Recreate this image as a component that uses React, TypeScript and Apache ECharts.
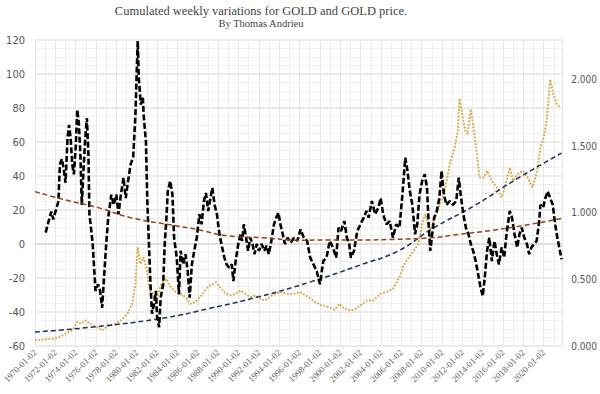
import React, { useEffect, useRef } from "react";
import * as echarts from "echarts";

const blackYears = [
  1971.05, 1971.25, 1971.6, 1971.8, 1972.1, 1972.3, 1972.45, 1972.65, 1972.85, 1973.0,
  1973.2, 1973.35, 1973.5, 1973.66, 1973.82, 1974.0, 1974.15, 1974.3, 1974.46, 1974.6,
  1974.78, 1974.94, 1975.1, 1975.25, 1975.35, 1975.5, 1975.67, 1975.83, 1975.95, 1976.2,
  1976.4, 1976.6, 1976.78, 1977.0, 1977.2, 1977.5, 1977.74, 1978.0, 1978.2, 1978.44,
  1978.7, 1978.92, 1979.1, 1979.4, 1979.65, 1979.87, 1980.0, 1980.1, 1980.2, 1980.4,
  1980.6, 1980.7, 1980.9, 1981.05, 1981.2, 1981.35, 1981.5, 1981.7, 1981.88, 1982.0,
  1982.2, 1982.35, 1982.6, 1982.75, 1982.9, 1983.05, 1983.29, 1983.51, 1983.67, 1983.93,
  1984.15, 1984.31, 1984.56, 1984.79, 1985.01, 1985.2, 1985.42, 1985.65, 1985.9, 1986.16,
  1986.38, 1986.6, 1986.8, 1987.02, 1987.24, 1987.43, 1987.65, 1987.88, 1988.13, 1988.39,
  1988.61, 1988.83, 1989.09, 1989.34, 1989.5, 1989.72, 1989.98, 1990.2, 1990.36, 1990.52,
  1990.75, 1990.94, 1991.16, 1991.38, 1991.57, 1991.8, 1992.02, 1992.27, 1992.53, 1992.75,
  1992.98, 1993.23, 1993.49, 1993.71, 1993.93, 1994.12, 1994.35, 1994.57, 1994.82, 1995.14,
  1995.46, 1995.78, 1996.1, 1996.42, 1996.74, 1997.05, 1997.37, 1997.69, 1998.01, 1998.33,
  1998.65, 1998.97, 1999.28, 1999.6, 1999.83, 2000.08, 2000.4, 2000.65, 2000.88, 2001.04,
  2001.36, 2001.67, 2001.99, 2002.31, 2002.57, 2002.79, 2003.11, 2003.43, 2003.75, 2003.97,
  2004.22, 2004.54, 2004.86, 2005.18, 2005.5, 2005.82, 2006.14, 2006.39, 2006.61, 2006.84,
  2007.09, 2007.35, 2007.57, 2007.79, 2008.05, 2008.3, 2008.53, 2008.69, 2008.85, 2009.0,
  2009.23, 2009.49, 2009.74, 2009.96, 2010.19, 2010.44, 2010.76, 2011.08, 2011.4, 2011.65,
  2011.88, 2012.1, 2012.35, 2012.61, 2012.83, 2013.06, 2013.31, 2013.56, 2013.79, 2014.01,
  2014.2, 2014.43, 2014.65, 2014.9, 2015.16, 2015.38, 2015.6, 2015.86, 2016.11, 2016.34,
  2016.66, 2016.88, 2017.13, 2017.39, 2017.61, 2017.84, 2018.09, 2018.35, 2018.57, 2018.79,
  2019.05, 2019.3, 2019.52, 2019.68, 2019.94, 2020.16, 2020.38, 2020.64, 2020.89, 2021.12,
  2021.34, 2021.59, 2021.75,
];
const blackValues = [
  6.7, 11.5, 19, 14.5, 21, 25, 47, 50, 43, 36,
  62.5, 70, 62.5, 47, 41, 57, 79, 72, 53, 23,
  45, 62.5, 74, 53, 17.5, 9.6, 0, -16, -27.6, -23.7,
  -27.6, -37.5, -20, 0, 15.5, 29, 23, 29, 17.5, 29,
  39, 27, 35, 47, 51, 76, 102, 119.4, 98, 82,
  86, 74, 60.6, 23, 0, -23.7, -41, -35.5, -27.6, -43,
  -49, -31.6, -23.7, 0, 13.5, 31, 37, 29, 3.7, -8,
  -29.6, -4, -12, -6, -16, -31.6, -12, -4, 3.7, 17.5,
  11.6, 25.3, 30, 19.4, 27, 33, 23, 17.5, 5.7, -2,
  -8, -12, -14, -12, -21.8, -10, 0, 5.7, 1.8, 11.6,
  3.7, -4, 3.7, 0, -6, 0, -4, 0, -4, -1,
  -6, 1.8, 11.6, 15.5, 18.4, 11.6, 5.7, 0, 3.7, 0.8,
  3.7, 1.8, 8.6, 3.7, 1.8, -8, -12, -16, -23.7, -10,
  -8, 1.8, -2, -8, 9.6, 7.6, 13.5, 3.7, 0, -8,
  -4, 7.6, 11.6, 15.5, 19.4, 15.5, 25.3, 17.5, 21.4, 27,
  17.5, 11.6, 13.5, 3.7, 11.6, 9.6, 31, 50.8, 43, 31,
  23, 5.7, 11.6, 29, 37, 41, 33, 11.6, -4, 3.7,
  15.5, 19.4, 27, 43, 29, 23, 25.3, 23, 25.3, 39,
  27, 17.5, 9.6, 5.7, 0, -4, -10, -18, -25.7, -30.6,
  -20, -4, 3.7, -10, 1.8, -6, -12, -2, -8, 5.7,
  19.4, 15.5, 5.7, -2, 5.7, 9.6, 3.7, 0, -6, -2,
  0, 1.8, 11.6, 23, 21.4, 27, 31, 27, 23, 11.6,
  3.7, -4, -9,
];

const goldYears = [
  1970.0, 1971.75, 1972.4, 1973.0, 1973.66, 1974.14, 1974.46, 1974.94, 1975.41, 1976.05,
  1976.6, 1977.0, 1977.8, 1978.44, 1979.08, 1979.55, 1979.87, 1980.1, 1980.35, 1980.67,
  1981.0, 1981.3, 1981.62, 1981.88, 1982.1, 1982.42, 1982.9, 1983.35, 1983.83, 1984.31,
  1984.79, 1985.26, 1985.74, 1986.22, 1986.7, 1987.18, 1987.81, 1988.29, 1988.77, 1989.25,
  1989.72, 1990.2, 1990.68, 1991.16, 1991.64, 1992.12, 1992.59, 1993.07, 1993.55, 1994.19,
  1994.82, 1995.46, 1996.03, 1996.9, 1997.53, 1998.17, 1998.81, 1999.44, 1999.92, 2000.4,
  2001.04, 2001.52, 2001.99, 2002.63, 2003.27, 2003.9, 2004.54, 2005.18, 2005.82, 2006.3,
  2006.77, 2007.25, 2007.67, 2008.05, 2008.37, 2008.8, 2009.33, 2009.8, 2010.28, 2010.76,
  2011.24, 2011.56, 2011.72, 2012.04, 2012.29, 2012.51, 2012.83, 2013.15, 2013.47, 2013.69,
  2014.11, 2014.43, 2014.9, 2015.38, 2015.86, 2016.18, 2016.66, 2016.97, 2017.45, 2017.93,
  2018.41, 2018.89, 2019.36, 2019.68, 2020.0, 2020.32, 2020.64, 2020.96, 2021.28, 2021.66,
];
const goldPrices = [
  42, 55, 67, 92, 117, 180, 167, 192, 167, 142,
  117, 142, 167, 192, 242, 317, 467, 742, 617, 667,
  567, 417, 392, 317, 392, 467, 505, 442, 405, 392,
  367, 317, 330, 367, 417, 455, 480, 430, 392, 380,
  392, 417, 392, 367, 380, 355, 342, 367, 392, 405,
  392, 392, 405, 367, 330, 305, 292, 272, 317, 280,
  267, 280, 305, 342, 342, 392, 405, 430, 517, 617,
  667, 717, 767, 917, 992, 867, 967, 1067, 1167, 1367,
  1492, 1617, 1860, 1717, 1617, 1592, 1780, 1617, 1417, 1267,
  1267, 1317, 1242, 1192, 1117, 1192, 1342, 1242, 1292, 1317,
  1267, 1192, 1317, 1492, 1567, 1717, 2005, 1892, 1817, 1792,
];

const varTrendYears = [1970, 1973, 1976.2, 1979.4, 1983.2, 1985.9, 1989.1, 1992.3, 1996, 1998.8, 2002, 2005.2, 2009, 2011.7, 2014.9, 2018.1, 2021.75];
const varTrendValues = [30.8, 25.9, 21.4, 15.5, 11.4, 8.6, 4.7, 3.7, 2.2, 2.4, 2.4, 2.7, 3.7, 5.7, 8, 11, 15];

const priceTrendYears = [1970, 1976, 1983, 1987, 1992, 1997, 2002, 2005.7, 2009, 2013.3, 2017, 2021.75];
const priceTrendValues = [105, 145, 215, 280, 370, 480, 610, 715, 880, 1060, 1240, 1450];

const xTickYears = [1970, 2020];

function zip(xs: number[], ys: number[]) {
  return xs.map((x, i) => [x, ys[i]]);
}

export default function App() {
  const ref = useRef<HTMLDivElement>(null);
  useEffect(() => {
    document.body.style.margin = "0";
    const chart = echarts.init(ref.current!, null, { renderer: "svg" });
    const serif = "'Liberation Serif', 'DejaVu Serif', serif";
    const narrow = "'Liberation Sans Narrow', 'DejaVu Sans Condensed', sans-serif";
    chart.setOption({
      animation: false,
      backgroundColor: "#ffffff",
      title: {
        text: "Cumulated weekly variations for GOLD and GOLD price.",
        subtext: "By Thomas Andrieu",
        left: 256,
        top: -1,
        textAlign: "center",
        itemGap: 1,
        textStyle: { fontFamily: serif, fontSize: 12.5, fontWeight: "normal", color: "#444" },
        subtextStyle: { fontFamily: serif, fontSize: 10.5, color: "#444" },
      },
      grid: { left: 27, right: 31, top: 40, bottom: 48 },
      xAxis: {
        type: "value",
        min: xTickYears[0],
        max: 2021.82,
        interval: 2,
        axisLine: { show: true, lineStyle: { color: "#dcdcdc", width: 1.5 } },
        axisTick: { show: false },
        axisLabel: {
          rotate: 45,
          fontFamily: serif,
          fontSize: 9,
          color: "#666",
          margin: 5,
          showMaxLabel: false,
          formatter: (v: number) => (Number.isInteger(v) && v <= xTickYears[1] ? `${v}-01-02` : ""),
        },
        splitLine: { show: true, lineStyle: { color: "#e8e8e8", width: 1 } },
        minorTick: { show: false, splitNumber: 2 },
        minorSplitLine: { show: true, lineStyle: { color: "#eeeeee", width: 1 } },
      },
      yAxis: [
        {
          type: "value",
          min: -60,
          max: 120,
          interval: 20,
          axisLine: { show: false },
          axisTick: { show: false },
          axisLabel: { fontFamily: narrow, fontSize: 11, color: "#555", margin: 10 },
          splitLine: { show: true, lineStyle: { color: "#e4e4e4", width: 1.5 } },
          minorTick: { show: false, splitNumber: 4 },
          minorSplitLine: { show: true, lineStyle: { color: "#f0f0f0", width: 1 } },
        },
        {
          type: "value",
          min: 0,
          max: 2300,
          interval: 500,
          position: "right",
          axisLine: { show: false },
          axisTick: { show: false },
          splitLine: { show: false },
          axisLabel: {
            fontFamily: narrow,
            fontSize: 10,
            color: "#555",
            margin: 9,
            showMaxLabel: false,
            formatter: (v: number) => (v / 1000).toFixed(3),
          },
        },
      ],
      series: [
        {
          name: "GOLD price",
          type: "line",
          yAxisIndex: 1,
          data: zip(goldYears, goldPrices),
          showSymbol: false,
          lineStyle: { color: "#d2a63c", width: 1.9, type: [1.8, 1.6] },
          z: 2,
        },
        {
          name: "Price trend",
          type: "line",
          yAxisIndex: 1,
          data: zip(priceTrendYears, priceTrendValues),
          smooth: true,
          showSymbol: false,
          lineStyle: { color: "#1d2f5e", width: 1.5, type: [5, 3] },
          z: 3,
        },
        {
          name: "Cumulated weekly variations",
          type: "line",
          yAxisIndex: 0,
          data: zip(blackYears, blackValues),
          showSymbol: false,
          lineStyle: { color: "#000000", width: 2.6, type: [6, 2.5] },
          z: 4,
        },
        {
          name: "Variation trend",
          type: "line",
          yAxisIndex: 0,
          data: zip(varTrendYears, varTrendValues),
          smooth: true,
          showSymbol: false,
          lineStyle: { color: "#96401c", width: 1.5, type: [5, 3] },
          z: 5,
        },
      ],
    });
    return () => chart.dispose();
  }, []);
  return <div ref={ref} style={{ width: 600, height: 394 }} />;
}
